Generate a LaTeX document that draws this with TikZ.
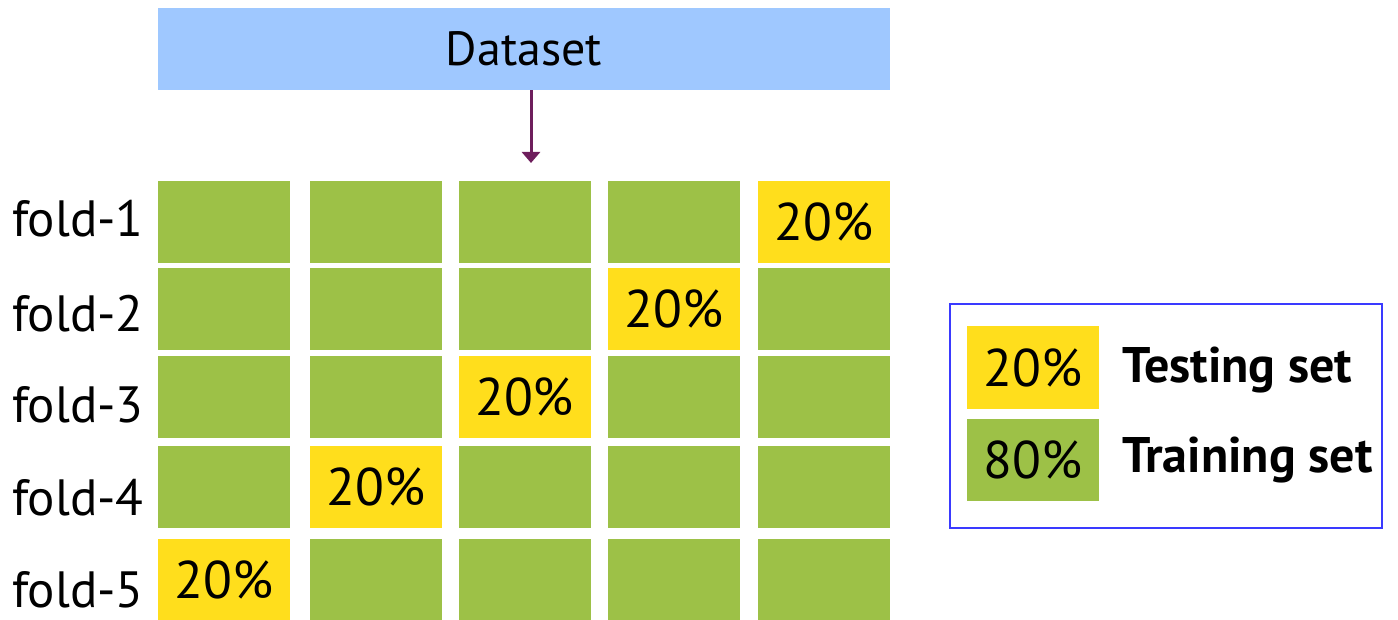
\documentclass[tikz,border=0pt]{standalone}
\usepackage{fontspec}
\setmainfont{PT Sans}
\usetikzlibrary{arrows.meta}
\definecolor{dsblue}{HTML}{9FC8FF}
\definecolor{trgreen}{HTML}{9DC147}
\definecolor{tsyellow}{HTML}{FFDE1C}
\definecolor{arrowpurple}{HTML}{6E1E5C}
\definecolor{legblue}{HTML}{3A3AFF}
\tikzset{
  cellbox/.style={rectangle, inner sep=0pt, minimum width=132pt, minimum height=82pt,
    font=\fontsize{53}{62}\selectfont},
  train/.style={cellbox, fill=trgreen},
  test/.style={cellbox, fill=tsyellow},
  foldlabel/.style={anchor=base west, inner sep=0pt, font=\fontsize{51}{60}\selectfont},
  legtext/.style={anchor=base west, inner sep=0pt, font=\fontsize{50}{60}\selectfont\bfseries},
}
\begin{document}
\begin{tikzpicture}[x=1pt,y=-1pt]
\useasboundingbox (0,0) rectangle (1398,620);
% dataset
\node[rectangle, fill=dsblue, minimum width=732pt, minimum height=82pt, inner sep=0pt,
  font=\fontsize{48}{58}\selectfont] (dataset) at (524,49) {Dataset};
\coordinate (arrowend) at (531,163);
\draw[arrowpurple, line width=3pt, -{Triangle[width=18pt,length=11pt]}] (dataset.south -| arrowend) -- (arrowend);
% grid
\def\colx{{224,376,524.5,674,824}}
\def\rowy{{222,309,397,487,580}}
\foreach \r in {1,...,5}{
  \foreach \c in {1,...,5}{
    \pgfmathsetmacro{\cx}{\colx[\c-1]}
    \pgfmathsetmacro{\cy}{\rowy[\r-1]}
    \pgfmathtruncatemacro{\t}{6-\r}
    \ifnum\c=\t
      \node[test] (c\r\c) at (\cx,\cy) {20\%};
    \else
      \node[train] (c\r\c) at (\cx,\cy) {};
    \fi
  }
}
% fold labels
\node[foldlabel] (f1) at (12,237) {fold-1};
\node[foldlabel] (f2) at (12,332) {fold-2};
\node[foldlabel] (f3) at (12,422) {fold-3};
\node[foldlabel] (f4) at (12,515) {fold-4};
\node[foldlabel] (f5) at (12,607) {fold-5};
% legend
\node[rectangle, draw=legblue, line width=2pt, minimum width=432pt, minimum height=224pt, inner sep=0pt] (legend) at (1166,416) {};
\node[test] (legtest) at (1033,367.5) {20\%};
\node[train] (legtrain) at (1033,460) {80\%};
\node[legtext] (testlbl) at (1122,382) {Testing set};
\node[legtext] (trainlbl) at (1122,472) {Training set};
\end{tikzpicture}
\end{document}
